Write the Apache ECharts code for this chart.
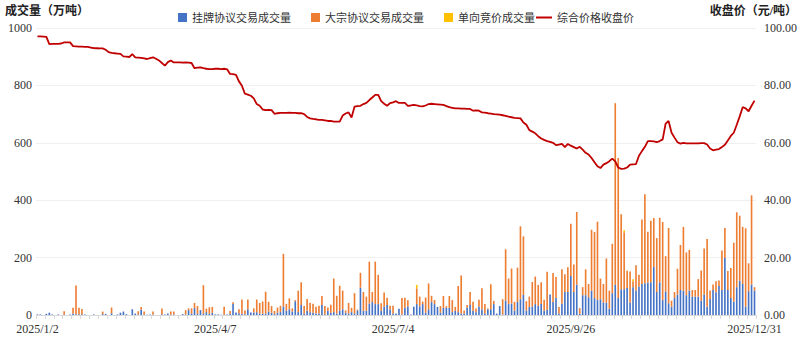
<!DOCTYPE html>
<html>
<head>
<meta charset="utf-8">
<script src="https://cdn.jsdelivr.net/npm/echarts@6/dist/echarts.min.js"></script>
<style>html,body{margin:0;padding:0;background:#fff}#c{width:800px;height:340px}</style>
</head>
<body>
<div id="c"></div>
<script>
// Trading-day calendar 2025 (weekdays minus exchange holidays)
const holidays = ['2025-01-01','2025-01-28','2025-01-29','2025-01-30','2025-01-31','2025-02-03','2025-02-04',
  '2025-04-04','2025-05-01','2025-05-02','2025-05-05','2025-06-02',
  '2025-10-01','2025-10-02','2025-10-03','2025-10-06','2025-10-07','2025-10-08'];
const labelDates = ['2025/1/2','2025/4/7','2025/7/4','2025/9/26','2025/12/31'];

const seriesNames = ['挂牌协议交易成交量','大宗协议交易成交量','单向竞价成交量','综合价格收盘价'];

const blueVol = [
2,2,0,4,8,2,0,2,0,2,
0,2,5,3,3,3,2,0,0,2,
0,0,3,4,0,6,0,2,8,12,
3,0,20,5,2,18,2,1,2,2,
0,0,3,2,5,2,2,0,0,3,
2,17,5,24,4,17,4,10,4,8,
2,2,1,2,2,4,38,9,6,4,
3,20,9,9,10,5,4,5,12,8,
3,8,10,30,15,20,12,48,10,35,
5,15,10,8,5,5,35,3,15,8,
10,5,15,20,8,5,10,5,16,95,
15,15,40,45,38,38,15,30,35,20,
5,5,22,2,25,30,2,29,38,30,
38,8,20,45,38,28,8,25,25,25,
10,15,10,5,5,25,35,15,10,30,
20,5,20,20,38,5,31,2,50,38,
40,15,45,55,70,15,28,30,38,32,
38,15,18,71,45,60,5,40,80,80,
136,80,106,4,69,69,62,85,59,52,
55,44,43,22,76,105,59,90,90,94,
43,97,85,99,108,111,113,114,167,80,
114,52,82,41,29,59,71,87,85,69,
85,64,64,64,50,71,29,56,87,79,
101,87,199,87,59,47,97,120,108,29,
83,106,85];

const orangeVol = [
0,0,0,0,0,0,0,0,0,11,
0,0,20,100,22,18,0,0,0,0,
0,0,9,0,0,20,0,0,0,0,
0,0,0,0,11,10,10,0,0,10,
0,0,20,0,0,10,10,0,0,0,
15,6,18,18,27,0,100,12,23,20,
0,0,0,27,0,10,6,0,14,50,
13,34,0,14,44,37,43,76,34,23,
11,18,22,183,24,38,11,4,75,79,
26,41,33,31,24,27,31,28,11,28,
117,62,87,65,8,37,15,71,3,52,
65,49,146,35,148,102,26,48,25,12,
27,0,0,57,35,21,0,0,55,34,
9,53,90,22,14,0,23,41,6,41,
42,13,91,133,11,10,45,31,13,23,
73,33,3,87,11,0,0,53,179,89,
122,31,120,254,204,33,36,85,96,73,
76,38,133,0,101,72,23,119,62,86,
182,96,253,20,28,90,46,212,230,273,
72,64,154,63,172,633,488,261,198,60,
109,21,88,41,225,310,177,214,171,188,
225,272,123,262,21,21,90,157,222,149,
142,23,23,61,105,161,236,29,19,39,
19,138,104,66,105,205,261,226,199,273,
97,311,12];

const yellowVol = [
0,0,0,0,0,0,0,0,0,0, 0,0,0,0,0,0,0,0,0,0, 0,0,0,0,0,0,0,0,0,0,
0,0,0,0,0,0,0,0,0,0, 0,0,0,0,0,0,0,0,0,0, 0,0,0,0,0,0,0,0,0,0,
0,0,0,0,0,0,0,0,0,0, 0,0,0,0,0,0,0,0,0,0, 0,0,0,0,0,0,0,0,0,0,
0,0,0,0,0,0,0,0,0,0, 0,0,0,0,0,0,0,0,0,0, 0,0,0,0,0,0,0,0,0,0,
0,0,0,0,0,0,0,0,12,0, 0,0,0,0,0,0,0,0,0,0, 0,0,0,0,0,0,0,0,0,0,
0,0,0,0,0,0,0,0,0,0, 0,0,0,0,0,0,0,0,0,0, 0,0,0,0,0,0,0,0,0,0,
0,0,0,0,0,0,0,0,0,0, 0,0,0,0,0,0,0,0,7,0, 0,7,0,0,0,0,0,0,0,0,
0,0,0,0,0,0,0,0,0,0, 0,0,0,0,0,0,0,0,0,0, 0,0,0,0,0,0,0,0,0,0,
0,0,0];

const closePrice = [
97.10,97.05,97.00,96.90,94.40,94.45,94.50,94.50,94.60,95.00,
95.00,95.00,93.70,93.60,93.50,93.50,93.45,93.40,93.20,93.00,
92.95,92.90,92.90,92.40,91.60,91.30,91.20,91.10,91.00,90.10,
90.00,89.90,90.90,89.80,89.70,89.60,89.40,89.20,89.50,89.80,
89.30,88.70,87.80,86.90,88.10,88.70,88.00,88.00,88.00,87.90,
88.00,87.90,87.80,86.00,86.20,86.30,86.00,85.80,85.70,85.70,
85.80,85.80,85.70,85.80,85.60,84.00,83.90,83.70,81.40,79.90,
77.10,76.80,76.40,75.50,73.50,72.90,71.60,71.40,71.50,71.40,
70.10,70.30,70.40,70.40,70.40,70.50,70.40,70.40,70.30,70.30,
70.00,69.00,68.50,68.30,68.20,68.00,68.00,67.80,67.60,67.60,
67.40,67.40,67.40,69.50,70.20,70.60,68.80,72.60,72.80,72.90,
73.50,73.90,74.90,75.80,76.70,76.70,74.50,73.60,72.90,73.80,
74.10,74.50,73.90,73.90,73.90,72.90,73.00,73.20,73.00,72.80,
72.70,73.00,73.50,73.60,73.50,73.40,73.30,73.20,72.80,72.40,
72.20,72.00,72.00,71.90,71.90,71.80,71.80,71.20,71.30,71.20,
70.60,70.50,70.30,70.20,70.00,69.90,69.80,69.60,69.40,69.10,
68.90,68.70,68.60,68.50,67.10,66.30,64.40,63.90,63.30,62.30,
61.50,61.00,60.60,60.30,60.00,59.20,59.40,59.60,58.50,59.60,
59.00,58.50,58.00,58.60,57.60,56.50,55.90,54.70,53.20,51.80,
51.20,52.40,52.90,53.60,54.50,53.50,51.40,50.90,51.00,51.40,
52.40,52.50,52.60,55.50,57.10,58.60,60.60,60.60,60.50,60.20,
60.60,61.20,66.70,67.60,63.50,61.80,60.20,59.70,60.00,59.80,
59.80,59.80,59.80,59.80,59.90,59.90,59.40,58.00,57.40,57.60,
57.80,58.50,59.30,60.80,62.40,63.50,66.30,69.20,72.40,72.00,
71.00,72.90,74.70];

const leftTicks = {min:0, max:1000, interval:200};
const rightTicks = {min:0, max:100, interval:20};

// build categories
const categories = [];
(function(){
  const d = new Date(Date.UTC(2025,0,2));
  const end = Date.UTC(2025,11,31);
  while (d.getTime() <= end) {
    const wd = d.getUTCDay();
    const y = d.getUTCFullYear(), m = d.getUTCMonth()+1, dd = d.getUTCDate();
    const iso = y + '-' + String(m).padStart(2,'0') + '-' + String(dd).padStart(2,'0');
    if (wd !== 0 && wd !== 6 && holidays.indexOf(iso) < 0) categories.push(y + '/' + m + '/' + dd);
    d.setUTCDate(d.getUTCDate()+1);
  }
})();

const serif = '"Liberation Serif","Noto Sans CJK SC",serif';
const cjk = '"Liberation Serif","Noto Sans CJK SC",serif';

const chart = echarts.init(document.getElementById('c'), null, {renderer:'svg'});
chart.setOption({
  animation:false,
  backgroundColor:'#ffffff',
  graphic:[
    {type:'text', left:5, top:5, style:{text:'成交量（万吨）', font:'bold 12px ' + cjk, fill:'#222'}},
    {type:'text', right:3, top:5, style:{text:'收盘价（元/吨）', font:'bold 12px ' + cjk, fill:'#222'}}
  ],
  legend:[
    {data:[seriesNames[0],seriesNames[1],seriesNames[2]], left:173, top:7, itemWidth:9, itemHeight:9, itemGap:20, icon:'rect',
     textStyle:{fontSize:11, fontFamily:cjk, color:'#333'}},
    {data:[seriesNames[3]], left:531, top:7, itemWidth:16, itemHeight:2, itemGap:20, icon:'rect',
     textStyle:{fontSize:11, fontFamily:cjk, color:'#333'}}
  ],
  grid:{left:36, right:44, top:28, bottom:25, containLabel:false},
  xAxis:{
    type:'category', data:categories, boundaryGap:true,
    axisLine:{lineStyle:{color:'#d9d9d9', width:1}},
    axisTick:{show:true, interval:2, length:4, lineStyle:{color:'#d9d9d9'}},
    axisLabel:{interval:function(idx, val){return labelDates.indexOf(val) >= 0;}, color:'#333', fontFamily:serif, fontSize:12, margin:8, hideOverlap:false}
  },
  yAxis:[
    {type:'value', min:leftTicks.min, max:leftTicks.max, interval:leftTicks.interval,
     axisLine:{show:false}, axisTick:{show:false},
     splitLine:{lineStyle:{color:'#f0f0f0', width:1}},
     axisLabel:{color:'#333', fontFamily:serif, fontSize:12, margin:4, formatter:function(v){return String(v);}}},
    {type:'value', min:rightTicks.min, max:rightTicks.max, interval:rightTicks.interval,
     axisLine:{show:false}, axisTick:{show:false}, splitLine:{show:false},
     axisLabel:{color:'#333', fontFamily:serif, fontSize:12, margin:8, formatter:function(v){return v.toFixed(2);}}}
  ],
  series:[
    {name:seriesNames[0], type:'bar', stack:'vol', data:blueVol, barWidth:'55%', itemStyle:{color:'#4472C4'}},
    {name:seriesNames[1], type:'bar', stack:'vol', data:orangeVol, barWidth:'55%', itemStyle:{color:'#ED7D31'}},
    {name:seriesNames[2], type:'bar', stack:'vol', data:yellowVol, barWidth:'55%', itemStyle:{color:'#FFC000'}},
    {name:seriesNames[3], type:'line', yAxisIndex:1, data:closePrice, symbol:'none', showSymbol:false, z:5,
     lineStyle:{color:'#C00000', width:1.8}, itemStyle:{color:'#C00000'}}
  ]
});
</script>
</body>
</html>
